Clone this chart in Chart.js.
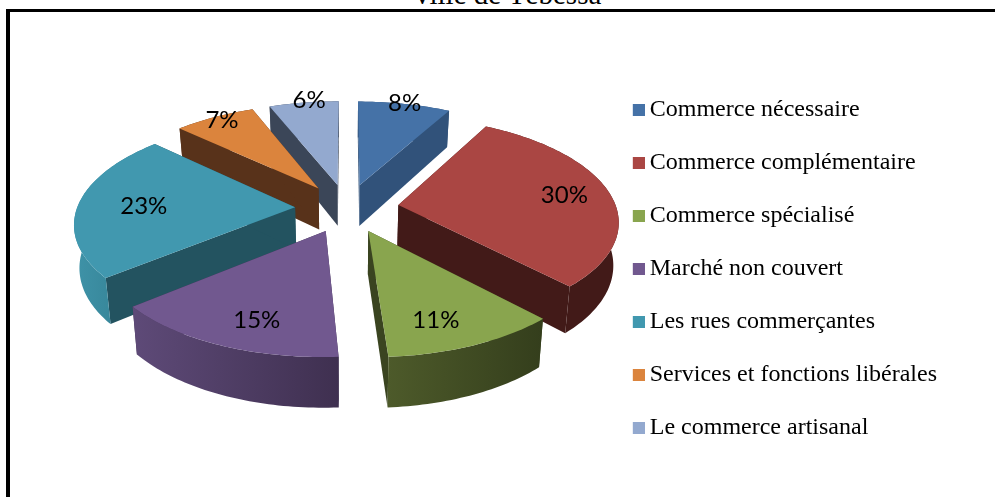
<!DOCTYPE html>
<html>
<head>
<meta charset="utf-8">
<title>Commerce</title>
<script src="https://cdn.jsdelivr.net/npm/chart.js@4"></script>
<style>
  html, body { margin: 0; padding: 0; background: #fff; overflow: hidden; }
  #wrap { position: relative; width: 995px; height: 497px; overflow: hidden; }
  #frame { position: absolute; left: 6px; top: 9px; right: -10px; bottom: -10px; border: 4px solid #000; border-top-width: 3px; }
  #title { position: absolute; left: 415px; top: -20px; font: 29px "Liberation Serif", serif; line-height: 29px; white-space: nowrap; color: #000; }
  canvas { position: absolute; left: 0; top: 0; }
</style>
</head>
<body>
<div id="wrap">
  <div id="title">ville de Tébessa</div>
  <div id="frame"></div>
  <canvas id="pieChart" width="995" height="497"></canvas>
</div>
<script>
const categories = ['Commerce nécessaire', 'Commerce complémentaire', 'Commerce spécialisé', 'Marché non couvert', 'Les rues commerçantes', 'Services et fonctions libérales', 'Le commerce artisanal'];
const shares = [8, 30, 11, 15, 23, 7, 6];
const topColors = ['#4572A7', '#AA4643', '#89A54E', '#71588F', '#4198AF', '#DB843D', '#93A9CF'];
const wallColors = ['#31527A', '#421A18', '#3A4420', '#3F3050', '#235360', '#58321A', '#3B4658'];
const rimLeftColors = ['#31527A', '#421A18', '#4D5A2A', '#5E4A78', '#3F93A8', '#58321A', '#3B4658'];
const rimRightColors = ['#31527A', '#421A18', '#343E1C', '#3F3050', '#2F7A8C', '#58321A', '#3B4658'];
// where the % label sits in its slice: reach 1 = on the rim, turn in degrees off the middle
const labelReach = [1.01, 0.77, 0.78, 0.79, 0.71, 0.95, 1.03];
const labelTurn = [-1, 0, 5, -3, -1, 0, 1];

// camera for the tilted pie
const cam = { cx: 347, cy: 208, tilt: 0.465, dist: 1554, radius: 218, explode: 52, depth: 42, labelNudge: 3 };

function project(u, v, h) {
  const s = cam.dist / (cam.dist - v);
  const spread = h ? 0.98 : 1;
  return { x: cam.cx + u * s * spread, y: cam.cy + cam.tilt * v * s + (h || 0) * s };
}

// 15 wide with the colour on the right 12, legend text then starts 5px after it
function swatch(color) {
  const c = document.createElement('canvas');
  c.width = 15;
  c.height = 12;
  const g = c.getContext('2d');
  g.fillStyle = color;
  g.fillRect(3, 0, 12, 12);
  return c;
}

function trace(ctx, pts) {
  ctx.beginPath();
  pts.forEach((p, i) => i ? ctx.lineTo(p.x, p.y) : ctx.moveTo(p.x, p.y));
  ctx.closePath();
}

const pie3d = {
  id: 'pie3d',
  beforeDatasetsDraw(chart) {
    const ctx = chart.ctx;
    const arcs = chart.getDatasetMeta(0).data;
    const slices = arcs.map((arc, i) => {
      const { startAngle, endAngle } = arc.getProps(['startAngle', 'endAngle'], true);
      const mid = (startAngle + endAngle) / 2;
      const ox = Math.cos(mid) * cam.explode;
      const oy = Math.sin(mid) * cam.explode;
      const steps = Math.ceil((endAngle - startAngle) / 0.02);
      const rim = [];
      for (let n = 0; n <= steps; n++) {
        const a = startAngle + (endAngle - startAngle) * n / steps;
        rim.push([ox + Math.cos(a) * cam.radius, oy + Math.sin(a) * cam.radius]);
      }
      return { i, mid, ox, oy, rim, back: Math.sin(mid) };
    });

    // painter's order, far slices first
    slices.slice().sort((a, b) => a.back - b.back).forEach(sl => {
      const top = sl.rim.map(p => project(p[0], p[1], 0));
      const low = sl.rim.map(p => project(p[0], p[1], cam.depth));
      const apexTop = project(sl.ox, sl.oy, 0);
      const apexLow = project(sl.ox, sl.oy, cam.depth);

      ctx.fillStyle = wallColors[sl.i];
      trace(ctx, [apexTop, top[0], low[0], apexLow]);
      ctx.fill();
      trace(ctx, [apexTop, top[top.length - 1], low[low.length - 1], apexLow]);
      ctx.fill();

      const xs = top.map(p => p.x);
      const grad = ctx.createLinearGradient(Math.min(...xs), 0, Math.max(...xs), 0);
      grad.addColorStop(0, rimLeftColors[sl.i]);
      grad.addColorStop(1, rimRightColors[sl.i]);
      ctx.fillStyle = grad;
      trace(ctx, top.concat(low.slice().reverse()));
      ctx.fill();

      ctx.fillStyle = topColors[sl.i];
      trace(ctx, [apexTop].concat(top));
      ctx.fill();
    });

    // % labels go on last
    ctx.fillStyle = '#000';
    ctx.font = '24px Lato, sans-serif';
    ctx.textAlign = 'center';
    ctx.textBaseline = 'middle';
    slices.forEach(sl => {
      const r = cam.radius * labelReach[sl.i];
      const a = sl.mid + labelTurn[sl.i] * Math.PI / 180;
      const p = project(sl.ox + Math.cos(a) * r, sl.oy + Math.sin(a) * r, 0);
      ctx.fillText(shares[sl.i] + '%', p.x + cam.labelNudge, p.y);
    });
    return false;
  }
};

const pieChart = new Chart(document.getElementById('pieChart'), {
  type: 'pie',
  plugins: [pie3d],
  data: {
    labels: categories,
    datasets: [{ data: shares, backgroundColor: topColors }]
  },
  options: {
    responsive: false,
    animation: false,
    layout: { padding: { top: 40, bottom: 0, right: 48 } },
    plugins: {
      tooltip: { enabled: false },
      legend: {
        position: 'right',
        labels: {
          color: '#000',
          font: { family: '"Liberation Serif", serif', size: 24 },
          padding: 29,
          usePointStyle: true,
          pointStyleWidth: 1,
          generateLabels(chart) {
            return Chart.controllers.doughnut.overrides.plugins.legend.labels.generateLabels(chart)
              .map((item, i) => Object.assign(item, { pointStyle: swatch(topColors[i]) }));
          }
        }
      }
    }
  }
});
</script>
</body>
</html>
